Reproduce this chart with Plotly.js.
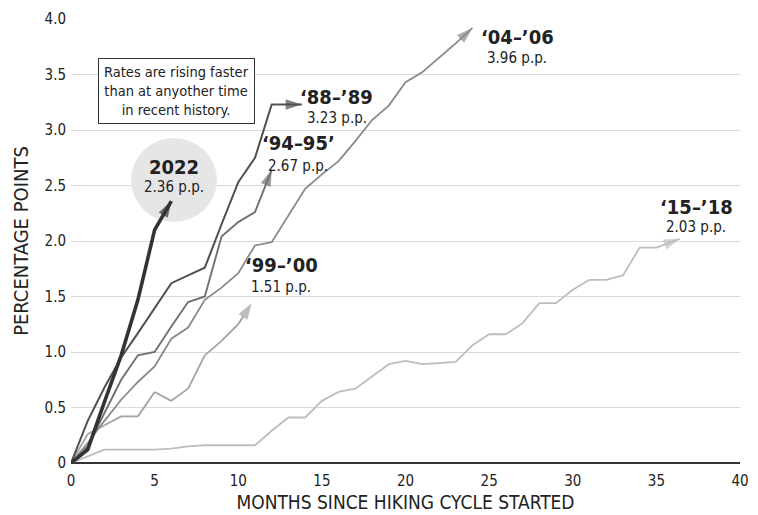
<!DOCTYPE html>
<html><head><meta charset="utf-8">
<script src="https://cdn.plot.ly/plotly-3.0.1.min.js"></script>
<style>html,body{margin:0;padding:0;background:#fff}#chart{width:758px;height:515px}</style>
</head><body><div id="chart"></div>
<script>
// ---- data ----
const seriesNames = ["2022", "‘88–’89", "‘94–95’", "‘04–’06", "‘99–’00", "‘15–’18"];
const seriesTotals = ["2.36 p.p.", "3.23 p.p.", "2.67 p.p.", "3.96 p.p.", "1.51 p.p.", "2.03 p.p."];

const months2022 = [0, 1, 2, 3, 4, 5, 6];
const values2022 = [0, 0.12, 0.55, 0.97, 1.47, 2.1, 2.36];

const months8889 = [0, 1, 2, 3, 4, 5, 6, 7, 8, 9, 10, 11, 12, 13.8];
const values8889 = [0, 0.38, 0.68, 0.95, 1.17, 1.39, 1.62, 1.69, 1.76, 2.15, 2.53, 2.75, 3.23, 3.23];

const months9495 = [0, 1, 2, 3, 4, 5, 6, 7, 8, 9, 10, 11, 12];
const values9495 = [0, 0.15, 0.45, 0.75, 0.97, 1.0, 1.23, 1.45, 1.5, 2.04, 2.17, 2.26, 2.64];

const months0406 = [0, 1, 2, 3, 4, 5, 6, 7, 8, 9, 10, 11, 12, 13, 14, 15, 16, 17, 18, 19, 20, 21, 22, 23, 24];
const values0406 = [0, 0.18, 0.38, 0.57, 0.73, 0.87, 1.12, 1.22, 1.47, 1.58, 1.71, 1.96, 1.99, 2.23, 2.47, 2.6, 2.72, 2.9, 3.09, 3.22, 3.43, 3.52, 3.65, 3.78, 3.92];

const months9900 = [0, 1, 2, 3, 4, 5, 6, 7, 8, 9, 10, 10.8];
const values9900 = [0, 0.26, 0.34, 0.42, 0.42, 0.64, 0.56, 0.67, 0.97, 1.1, 1.25, 1.44];

const months1518 = [0, 1, 2, 3, 4, 5, 6, 7, 8, 9, 10, 11, 12, 13, 14, 15, 16, 17, 18, 19, 20, 21, 22, 23, 24, 25, 26, 27, 28, 29, 30, 31, 32, 33, 34, 35, 36.4];
const values1518 = [0, 0.06, 0.12, 0.12, 0.12, 0.12, 0.13, 0.15, 0.16, 0.16, 0.16, 0.16, 0.29, 0.41, 0.41, 0.56, 0.64, 0.67, 0.78, 0.89, 0.92, 0.89, 0.9, 0.91, 1.06, 1.16, 1.16, 1.26, 1.44, 1.44, 1.56, 1.65, 1.65, 1.69, 1.94, 1.94, 2.02];

const xTickVals = [0, 5, 10, 15, 20, 25, 30, 35, 40];
const yTickVals = [0, 0.5, 1, 1.5, 2, 2.5, 3, 3.5, 4];
const yTickText = ["0", "0.5", "1.0", "1.5", "2.0", "2.5", "3.0", "3.5", "4.0"];

const calloutText = "Rates are rising faster<br>than at anyother time<br>in recent history.";

// ---- styling ----
const FONT = "'DejaVu Sans Condensed', 'Roboto', sans-serif";
const TEXT = "#222";

// nameIdx points into seriesNames / seriesTotals
const series = [
  {x: months1518, y: values1518, color: "#bdbdbd", width: 1.8, nameIdx: 5, label: [37.38, 2.31, 2.13]},
  {x: months9900, y: values9900, color: "#a3a3a3", width: 1.8, nameIdx: 4, label: [12.56, 1.78, 1.59]},
  {x: months0406, y: values0406, color: "#8a8a8a", width: 1.8, nameIdx: 3, label: [26.67, 3.84, 3.65]},
  {x: months9495, y: values9495, color: "#707070", width: 1.9, nameIdx: 2, label: [13.58, 2.88, 2.68]},
  {x: months8889, y: values8889, color: "#505050", width: 2.0, nameIdx: 1, label: [15.9, 3.30, 3.11]},
  {x: months2022, y: values2022, color: "#333333", width: 3.6, nameIdx: 0, label: [6.16, 2.67, 2.49]}
];

const traces = series.map(s => ({
  type: "scatter",
  mode: "lines+markers",
  x: s.x, y: s.y,
  line: {color: s.color, width: s.width, shape: "linear"},
  marker: {
    symbol: "arrow", angleref: "previous", color: s.color,
    size: s.x.map((v, i) => i === s.x.length - 1 ? 17 : 0),
    line: {width: 0}
  },
  hoverinfo: "skip", showlegend: false
}));

const annotations = [];
series.forEach(s => {
  const i = s.nameIdx;
  annotations.push({x: s.label[0], y: s.label[1], xref: "x", yref: "y", text: "<b>" + seriesNames[i] + "</b>",
    showarrow: false, font: {family: FONT, size: 20, color: TEXT}, xanchor: "center", yanchor: "middle"});
  annotations.push({x: s.label[0], y: s.label[2], xref: "x", yref: "y", text: seriesTotals[i],
    showarrow: false, font: {family: FONT, size: 15, color: TEXT}, xanchor: "center", yanchor: "middle"});
});
annotations.push({x: 6.28, y: 3.35, xref: "x", yref: "y", text: calloutText, showarrow: false,
  font: {family: FONT, size: 14.5, color: TEXT}, align: "center", bgcolor: "#fff",
  bordercolor: "#333", borderwidth: 1, borderpad: 5, xanchor: "center", yanchor: "middle"});

const layout = {
  width: 758, height: 515,
  margin: {l: 71, r: 18, t: 19, b: 52},
  paper_bgcolor: "#fff", plot_bgcolor: "#fff",
  showlegend: false,
  font: {family: FONT, color: TEXT},
  xaxis: {
    range: [0, 40], tickvals: xTickVals, ticks: "", showgrid: false, zeroline: false, showline: false,
    ticklabelstandoff: 7,
    tickfont: {family: FONT, size: 15, color: TEXT},
    title: {text: "MONTHS SINCE HIKING CYCLE STARTED", font: {family: FONT, size: 19, color: TEXT}, standoff: 6}
  },
  yaxis: {
    range: [0, 4], tickvals: yTickVals, ticktext: yTickText, ticks: "",
    showgrid: true, gridcolor: "#d9d9d9", gridwidth: 1,
    zeroline: true, zerolinecolor: "#333", zerolinewidth: 2.5,
    ticklabelstandoff: 4,
    tickfont: {family: FONT, size: 15, color: TEXT},
    title: {text: "PERCENTAGE POINTS", font: {family: FONT, size: 20, color: TEXT}, standoff: 10}
  },
  shapes: [{type: "circle", layer: "between", xref: "x", yref: "y", xsizemode: "pixel", ysizemode: "pixel",
    xanchor: 6.16, yanchor: 2.55, x0: -43, x1: 43, y0: -42, y1: 42,
    fillcolor: "#e6e6e7", line: {width: 0}}],
  annotations: annotations
};

Plotly.newPlot("chart", traces, layout, {displayModeBar: false, staticPlot: true});
</script>
</body></html>
